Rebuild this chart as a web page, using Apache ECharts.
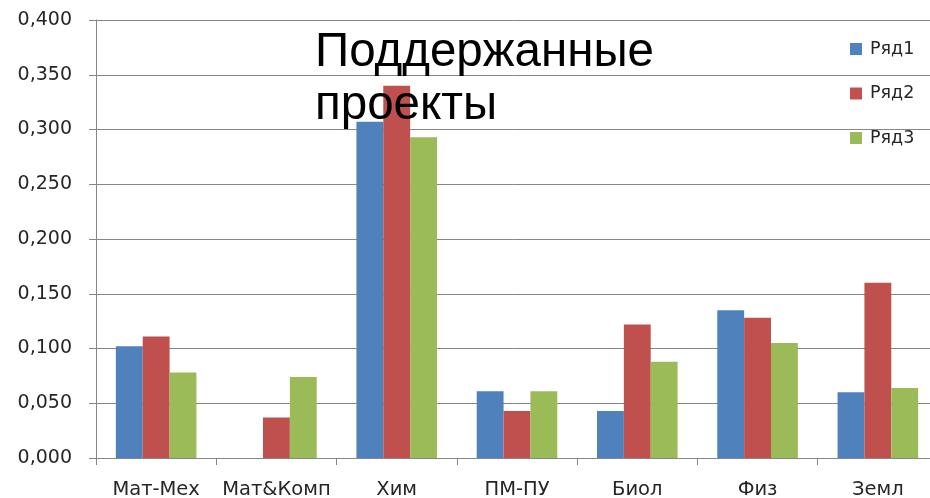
<!DOCTYPE html>
<html>
<head>
<meta charset="utf-8">
<script src="https://cdn.jsdelivr.net/npm/echarts@6/dist/echarts.min.js"></script>
<style>
html,body{margin:0;padding:0;background:#fff;}
#chart{width:930px;height:498px;}
</style>
</head>
<body>
<div id="chart"></div>
<script>
var categories = ['Мат-Мех', 'Мат&Комп', 'Хим', 'ПМ-ПУ', 'Биол', 'Физ', 'Земл'];
var seriesNames = ['Ряд1', 'Ряд2', 'Ряд3'];
var row1 = [0.102, 0, 0.307, 0.061, 0.043, 0.135, 0.060];
var row2 = [0.111, 0.037, 0.340, 0.043, 0.122, 0.128, 0.160];
var row3 = [0.078, 0.074, 0.293, 0.061, 0.088, 0.105, 0.064];
var titleText = 'Поддержанные\nпроекты';
var colors = ['#4F81BD', '#C0504D', '#9BBB59'];

var chart = echarts.init(document.getElementById('chart'), null, {renderer: 'canvas'});
var gray = '#868686';
var option = {
  backgroundColor: '#ffffff',
  animation: false,
  color: colors,
  title: {
    text: titleText,
    left: 315,
    top: 26,
    padding: 0,
    z: 10,
    textStyle: {
      fontFamily: 'Liberation Sans',
      fontSize: 47.5,
      fontWeight: 'normal',
      lineHeight: 53,
      color: '#000000'
    }
  },
  legend: {
    orient: 'vertical',
    left: 850,
    top: 39,
    padding: 0,
    itemWidth: 12,
    itemHeight: 12,
    itemGap: 24.5,
    icon: 'rect',
    textStyle: {
      fontFamily: 'DejaVu Sans',
      fontSize: 17.5,
      lineHeight: 20,
      padding: [0, 0, 0, 3],
      color: '#262626'
    },
    data: seriesNames
  },
  grid: {
    left: 96,
    top: 20,
    width: 842,
    height: 438,
    containLabel: false,
    outerBoundsMode: 'none'
  },
  xAxis: {
    type: 'category',
    data: categories,
    axisLine: {show: true, lineStyle: {color: gray, width: 1}},
    axisTick: {show: true, length: 7, alignWithLabel: false, lineStyle: {color: gray}},
    axisLabel: {
      interval: 0,
      margin: 22,
      fontFamily: 'DejaVu Sans',
      fontSize: 19.5,
      color: '#262626'
    },
    splitLine: {show: false}
  },
  yAxis: {
    type: 'value',
    min: 0,
    max: 0.4,
    interval: 0.05,
    axisLine: {show: true, lineStyle: {color: gray, width: 1}},
    axisTick: {show: true, length: 7, inside: false, lineStyle: {color: gray}},
    axisLabel: {
      margin: 24,
      fontFamily: 'DejaVu Sans',
      fontSize: 19,
      color: '#262626',
      formatter: function (v) { return v.toFixed(3).replace('.', ','); }
    },
    splitLine: {show: true, lineStyle: {color: gray, width: 1}}
  },
  series: [
    {name: seriesNames[0], type: 'bar', data: row1, barGap: '0%', barCategoryGap: '33%', itemStyle: {color: colors[0]}},
    {name: seriesNames[1], type: 'bar', data: row2, barGap: '0%', barCategoryGap: '33%', itemStyle: {color: colors[1]}},
    {name: seriesNames[2], type: 'bar', data: row3, barGap: '0%', barCategoryGap: '33%', itemStyle: {color: colors[2]}}
  ]
};
chart.setOption(option);
</script>
</body>
</html>
